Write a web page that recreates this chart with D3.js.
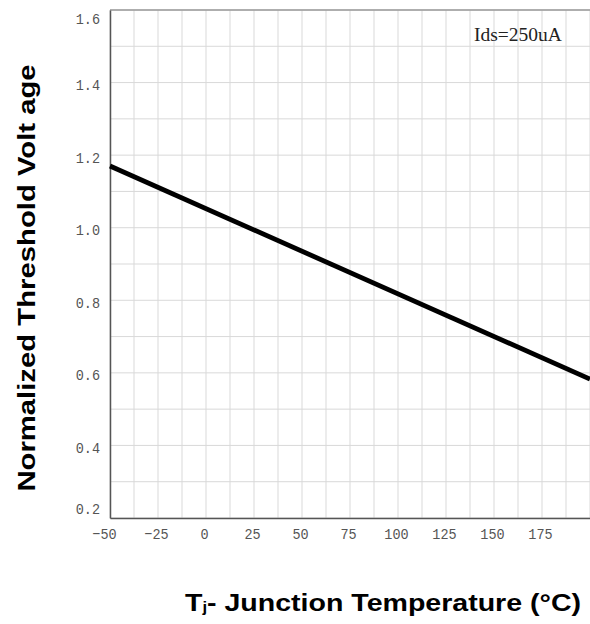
<!DOCTYPE html>
<html>
<head>
<meta charset="utf-8">
<script src="https://cdn.jsdelivr.net/npm/d3@7"></script>
<style>
  html, body { margin: 0; padding: 0; background: #fff; }
  svg { display: block; }
</style>
</head>
<body>
<svg id="chart" width="590" height="624"></svg>
<script>
// ---- data ----
const temperature = [-50, 200];          // °C
const vthNormalized = [1.17, 0.583];     // normalized threshold voltage
const xTickValues = [-50, -25, 0, 25, 50, 75, 100, 125, 150, 175];
const yTickValues = [0.2, 0.4, 0.6, 0.8, 1.0, 1.2, 1.4, 1.6];
const xGridValues = d3.range(-50, 200.01, 12.5);
const yGridValues = d3.range(0.2, 1.6001, 0.1);
const annotation = "Ids=250uA";
const xTitle = "Junction Temperature (°C)";
const yTitle = "Normalized Threshold Volt age";

// ---- layout ----
const svg = d3.select("#chart");
const mLeft = 110, mRight = 590, mTop = 10, mBottom = 518;

const x = d3.scaleLinear().domain([-50, 200]).range([mLeft, mRight]);
const y = d3.scaleLinear().domain([0.2, 1.6]).range([mBottom, mTop]);

// grid
svg.append("g").selectAll("line").data(xGridValues).join("line")
  .attr("x1", d => x(d)).attr("x2", d => x(d))
  .attr("y1", mTop).attr("y2", mBottom)
  .attr("stroke", "#d9d9d9").attr("stroke-width", 1);
svg.append("g").selectAll("line").data(yGridValues).join("line")
  .attr("x1", mLeft).attr("x2", mRight)
  .attr("y1", d => y(d)).attr("y2", d => y(d))
  .attr("stroke", "#d9d9d9").attr("stroke-width", 1);

// top border
svg.append("line").attr("x1", mLeft).attr("x2", mRight).attr("y1", mTop).attr("y2", mTop)
  .attr("stroke", "#9a9a9a").attr("stroke-width", 1.5);

const tickFont = "'Liberation Mono', monospace";
const charW = 8.1;

// axes
const xAxis = d3.axisBottom(x).tickValues(xTickValues).tickSize(0).tickPadding(0)
  .tickFormat(d => String(d).replace("-", "\u2212"));
const gx = svg.append("g").attr("transform", `translate(0,${mBottom})`).call(xAxis);
gx.select(".domain").attr("stroke", "#555").attr("stroke-width", 1.5);
gx.selectAll("text")
  .attr("font-family", tickFont)
  .attr("font-size", 15.5).attr("fill", "#555")
  .attr("dy", null).attr("y", 21)
  .attr("dx", d => d === -50 ? -6 : -2)
  .attr("textLength", function() { return this.textContent.length * charW; })
  .attr("lengthAdjust", "spacingAndGlyphs");

const yAxis = d3.axisLeft(y).tickValues(yTickValues).tickSize(0).tickPadding(10)
  .tickFormat(d3.format(".1f"));
const gy = svg.append("g").attr("transform", `translate(${mLeft},0)`).call(yAxis);
gy.select(".domain").attr("stroke", "#555").attr("stroke-width", 1.5);
gy.selectAll("text")
  .attr("font-family", tickFont)
  .attr("font-size", 15.5).attr("fill", "#555")
  .attr("dy", d => d >= 1.59 ? "0.85em" : (d <= 0.21 ? "-0.3em" : "0.45em"))
  .attr("textLength", function() { return this.textContent.length * charW; })
  .attr("lengthAdjust", "spacingAndGlyphs");

// data line
const pts = temperature.map((t, i) => [t, vthNormalized[i]]);
svg.append("path").datum(pts)
  .attr("fill", "none").attr("stroke", "#000").attr("stroke-width", 4.8)
  .attr("d", d3.line().x(d => x(d[0])).y(d => y(d[1])));

// annotation
svg.append("text").attr("x", 474).attr("y", 41)
  .attr("font-family", "'Liberation Serif', 'Times New Roman', serif")
  .attr("font-size", 19.5).attr("fill", "#222").text(annotation);

// x title
const xt = svg.append("text").attr("transform", "translate(383,611) scale(1.19,1)")
  .attr("text-anchor", "middle")
  .attr("font-family", "'Liberation Sans', Arial, sans-serif")
  .attr("font-weight", "bold").attr("font-size", 24).attr("fill", "#000");
xt.append("tspan").text("T");
xt.append("tspan").attr("font-size", 14).attr("dy", 1).text("j");
xt.append("tspan").attr("dy", -1).text("- " + xTitle);

// y title
svg.append("text")
  .attr("transform", "translate(35,278) rotate(-90) scale(1.22,1)")
  .attr("text-anchor", "middle")
  .attr("font-family", "'Liberation Sans', Arial, sans-serif")
  .attr("font-weight", "bold").attr("font-size", 24).attr("fill", "#000")
  .text(yTitle);
</script>
</body>
</html>
